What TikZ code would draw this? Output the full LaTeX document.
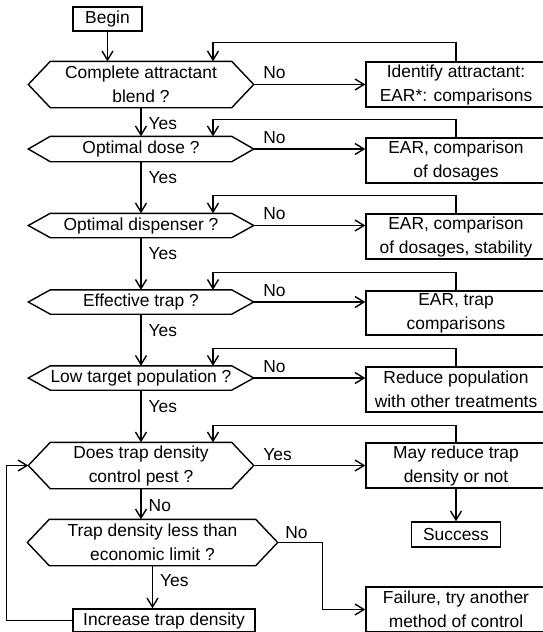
\documentclass[tikz,border=0pt]{standalone}
\usepackage{fontspec}
\setmainfont{Liberation Sans}
\usepackage{tikz}
\usetikzlibrary{arrows.meta}
\newcommand{\hexa}[1]{\draw (#1.west) -- ([xshift=22pt]#1.north west) -- ([xshift=-22pt]#1.north east) -- (#1.east) -- ([xshift=-22pt]#1.south east) -- ([xshift=22pt]#1.south west) -- cycle;}

\begin{document}
\begin{tikzpicture}[x=1pt,y=-1pt,line width=1.4pt,>={Straight Barb[length=9pt,width=11pt]},font=\fontsize{17.4}{24}\selectfont]
	\tikzstyle{box}=[draw,inner sep=0pt,align=center]
	\tikzstyle{hexq}=[inner sep=0pt,align=center,minimum width=224pt]
	\tikzstyle{lbl}=[inner sep=0pt]
	\useasboundingbox (0,0) rectangle (543,632);
		\node[box, minimum width=69pt, minimum height=24pt] (begin) at (107.5,19) {Begin};
		\node[hexq, minimum height=45pt] (q1) at (141,84.5) {Complete attractant\\blend ?};
		\node[hexq, minimum height=24pt] (q2) at (141,149) {Optimal dose ?};
		\node[hexq, minimum height=23pt] (q3) at (141,225.5) {Optimal dispenser ?};
		\node[hexq, minimum height=23pt] (q4) at (141,302) {Effective trap ?};
		\node[hexq, minimum height=23pt] (q5) at (141,378) {Low target population ?};
		\node[hexq, minimum height=45pt] (q6) at (141,465.5) {Does trap density\\control pest ?};
		\node[hexq, minimum width=249pt, minimum height=45pt] (q7) at (152.5,542.5) {Trap density less than\\economic limit ?};
		\node[box, minimum width=182pt, minimum height=23pt] (inc) at (164,620.5) {Increase trap density};
		\hexa{q1} \hexa{q2} \hexa{q3} \hexa{q4} \hexa{q5} \hexa{q6} \hexa{q7}
		\node[box, minimum width=180pt, minimum height=45pt] (a1) at (456,84.5) {Identify attractant:\\EAR*: comparisons};
		\node[box, minimum width=180pt, minimum height=45pt] (a2) at (456,160.5) {EAR, comparison\\of dosages};
		\node[box, minimum width=180pt, minimum height=45pt] (a3) at (456,236.5) {EAR, comparison\\of dosages, stability};
		\node[box, minimum width=180pt, minimum height=44pt] (a4) at (456,313) {EAR, trap\\comparisons};
		\node[box, minimum width=180pt, minimum height=45pt] (a5) at (456,389.5) {Reduce population\\with other treatments};
		\node[box, minimum width=180pt, minimum height=45pt] (a6) at (456,465.5) {May reduce trap\\density or not};
		\node[box, minimum width=89pt, minimum height=25pt] (succ) at (456,534.5) {Success};
		\node[box, minimum width=180pt, minimum height=45pt] (fail) at (456,609.5) {Failure, try another\\method of control};
			\draw[->] (begin.south) -- (begin.south |- q1.north);
			\draw[->] (q1.south) -- node[lbl, at start, anchor=west, xshift=7pt, yshift=-16pt] {Yes} (q2.north);
			\draw[->] (q2.south) -- node[lbl, at start, anchor=west, xshift=7pt, yshift=-16pt] {Yes} (q3.north);
			\draw[->] (q3.south) -- node[lbl, at start, anchor=west, xshift=7pt, yshift=-16pt] {Yes} (q4.north);
			\draw[->] (q4.south) -- node[lbl, at start, anchor=west, xshift=7pt, yshift=-16pt] {Yes} (q5.north);
			\draw[->] (q5.south) -- node[lbl, at start, anchor=west, xshift=7pt, yshift=-16pt] {Yes} (q6.north);
			\draw[->] (q6.south) -- node[lbl, at start, anchor=west, xshift=7pt, yshift=-17pt] {No} (q6.south |- q7.north);
			\draw[->] (q7.south) -- node[lbl, at start, anchor=west, xshift=7pt, yshift=-15pt] {Yes} (q7.south |- inc.north);
			\draw[->] (q1.east) -- node[lbl, at start, anchor=south west, xshift=9pt, yshift=5pt] {No} (q1.east -| a1.west);
			\draw[->] (q2.east) -- node[lbl, at start, anchor=south west, xshift=9pt, yshift=5pt] {No} (q2.east -| a2.west);
			\draw[->] (q3.east) -- node[lbl, at start, anchor=south west, xshift=9pt, yshift=5pt] {No} (q3.east -| a3.west);
			\draw[->] (q4.east) -- node[lbl, at start, anchor=south west, xshift=9pt, yshift=5pt] {No} (q4.east -| a4.west);
			\draw[->] (q5.east) -- node[lbl, at start, anchor=south west, xshift=9pt, yshift=5pt] {No} (q5.east -| a5.west);
			\draw[->] (q6.east) -- node[lbl, at start, anchor=south west, xshift=9pt, yshift=4pt] {Yes} (a6.west);
			\draw[->] (q7.east) -- node[lbl, at start, anchor=south west, xshift=7pt, yshift=3pt] {No} ++(45,0) |- (fail.west);
			\draw[->] (a1.north) -- ++(0,-19) -| ([xshift=72pt]q1.north);
			\draw[->] (a2.north) -- ++(0,-18) -| ([xshift=72pt]q2.north);
			\draw[->] (a3.north) -- ++(0,-18) -| ([xshift=72pt]q3.north);
			\draw[->] (a4.north) -- ++(0,-18) -| ([xshift=72pt]q4.north);
			\draw[->] (a5.north) -- ++(0,-18) -| ([xshift=72pt]q5.north);
			\draw[->] (a6.north) -- ++(0,-17) -| ([xshift=72pt]q6.north);
			\draw[->] (a6.south) -- (succ.north);
			\draw[->] (inc.west) -- ++(-66,0) |- (q6.west);
\end{tikzpicture}
\end{document}
